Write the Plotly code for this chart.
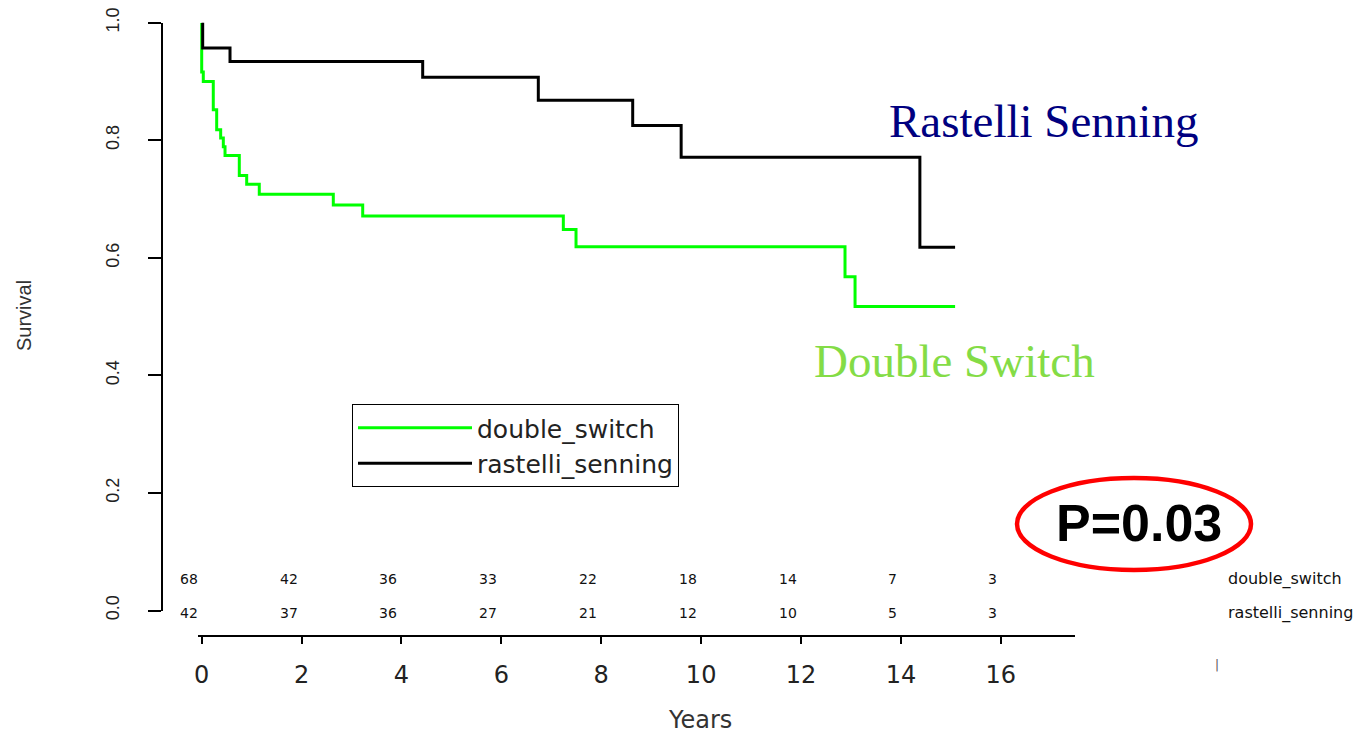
import plotly.graph_objects as go

# ---- data ----
ds_time = [0.0, 0.0, 0.032, 0.232, 0.300, 0.380, 0.433, 0.467, 0.753, 0.901,
           1.153, 2.635, 3.224, 7.241, 7.495, 12.881, 13.082, 15.085]
ds_surv = [1.000, 0.916, 0.900, 0.852, 0.818, 0.804, 0.789, 0.774, 0.740, 0.725,
           0.708, 0.690, 0.671, 0.648, 0.619, 0.568, 0.517, 0.517]

rs_time = [0.0, 0.02, 0.567, 4.425, 6.74, 8.63, 9.60, 14.38, 15.085]
rs_surv = [1.000, 0.957, 0.934, 0.907, 0.868, 0.825, 0.771, 0.618, 0.618]

risk_times = [0, 2, 4, 6, 8, 10, 12, 14, 16]
ds_risk = [68, 42, 36, 33, 22, 18, 14, 7, 3]
rs_risk = [42, 37, 36, 27, 21, 12, 10, 5, 3]

x_ticks = [0, 2, 4, 6, 8, 10, 12, 14, 16]
y_ticks = [0.0, 0.2, 0.4, 0.6, 0.8, 1.0]
y_ticktext = ["0.0", "0.2", "0.4", "0.6", "0.8", "1.0"]

# the page body keeps its default 8px margin, so the figure is drawn at (8, 8)
OFF = 8
W, H = 1362 - OFF, 735 - OFF


def px_x(p):
    return (p - OFF) / W


def px_y(p):
    return 1 - (p - OFF) / H


fig = go.Figure()
fig.add_trace(go.Scatter(x=ds_time, y=ds_surv, mode="lines", line_shape="hv",
                         line=dict(color="#00FF00", width=3), name="double_switch"))
fig.add_trace(go.Scatter(x=rs_time, y=rs_surv, mode="lines", line_shape="hv",
                         line=dict(color="#000000", width=3), name="rastelli_senning"))

annotations = []
for t, a, b in zip(risk_times, ds_risk, rs_risk):
    annotations.append(dict(x=t, xref="x", y=px_y(579), yref="paper", text=str(a),
                            showarrow=False, xanchor="right", yanchor="middle", xshift=-2,
                            font=dict(family="DejaVu Sans", size=14, color="#111")))
    annotations.append(dict(x=t, xref="x", y=px_y(613), yref="paper", text=str(b),
                            showarrow=False, xanchor="right", yanchor="middle", xshift=-2,
                            font=dict(family="DejaVu Sans", size=14, color="#111")))

annotations += [
    dict(x=px_x(1226), y=px_y(579), xref="paper", yref="paper", text="double_switch",
         showarrow=False, xanchor="left", yanchor="middle",
         font=dict(family="DejaVu Sans", size=16, color="#111")),
    dict(x=px_x(1226), y=px_y(613), xref="paper", yref="paper", text="rastelli_senning",
         showarrow=False, xanchor="left", yanchor="middle",
         font=dict(family="DejaVu Sans", size=16, color="#111")),
    dict(x=px_x(1217), y=px_y(665), xref="paper", yref="paper", text="|",
         showarrow=False, xanchor="center", yanchor="middle",
         font=dict(family="DejaVu Sans", size=12, color="#555")),
    dict(x=px_x(24), y=px_y(316), xref="paper", yref="paper", text="Survival",
         showarrow=False, textangle=-90, xanchor="center", yanchor="middle",
         font=dict(family="Liberation Sans", size=20, color="#333")),
    dict(x=px_x(700), y=px_y(720), xref="paper", yref="paper", text="Years",
         showarrow=False, xanchor="center", yanchor="middle",
         font=dict(family="DejaVu Sans", size=24, color="#333")),
    dict(x=px_x(887), y=px_y(121), xref="paper", yref="paper", text="Rastelli Senning",
         showarrow=False, xanchor="left", yanchor="middle",
         font=dict(family="Liberation Serif", size=47, color="#000080")),
    dict(x=px_x(812), y=px_y(361), xref="paper", yref="paper", text="Double Switch",
         showarrow=False, xanchor="left", yanchor="middle",
         font=dict(family="Liberation Serif", size=47, color="#84DC46")),
    dict(x=px_x(1139), y=px_y(523), xref="paper", yref="paper", text="<b>P=0.03</b>",
         showarrow=False, xanchor="center", yanchor="middle",
         font=dict(family="Liberation Sans", size=52, color="#000000")),
]

shapes = [
    dict(type="circle", xref="paper", yref="paper",
         x0=px_x(1017), x1=px_x(1251), y0=px_y(570), y1=px_y(478),
         line=dict(color="#FF0000", width=4.5)),
]

fig.update_layout(
    width=W, height=H,
    margin=dict(l=0, r=0, t=0, b=0),
    paper_bgcolor="white", plot_bgcolor="white",
    xaxis=dict(domain=[px_x(197.7), px_x(1075.2)], range=[-0.08, 17.49],
               anchor="free", position=px_y(636),
               showline=True, linecolor="black", linewidth=2,
               ticks="outside", ticklen=7, tickwidth=2, tickcolor="black",
               tickvals=x_ticks, ticklabelstandoff=10,
               tickfont=dict(family="DejaVu Sans", size=24, color="#222"),
               showgrid=False, zeroline=False, automargin=False),
    yaxis=dict(domain=[px_y(610.5), px_y(22.7)], range=[0, 1],
               anchor="free", position=px_x(162),
               showline=True, linecolor="black", linewidth=2,
               ticks="outside", ticklen=13, tickwidth=2, tickcolor="black",
               tickvals=y_ticks, ticktext=y_ticktext, tickangle=-90,
               ticklabelstandoff=22, ticklabeloverflow="allow",
               tickfont=dict(family="Liberation Sans", size=18, color="#222"),
               showgrid=False, zeroline=False, automargin=False),
    legend=dict(x=px_x(352), y=px_y(404), xanchor="left", yanchor="top",
                bordercolor="black", borderwidth=1, bgcolor="white",
                font=dict(family="DejaVu Sans", size=25, color="#222"),
                itemwidth=114, tracegroupgap=0),
    showlegend=True,
    annotations=annotations,
    shapes=shapes,
)

fig.write_html("out.html")
